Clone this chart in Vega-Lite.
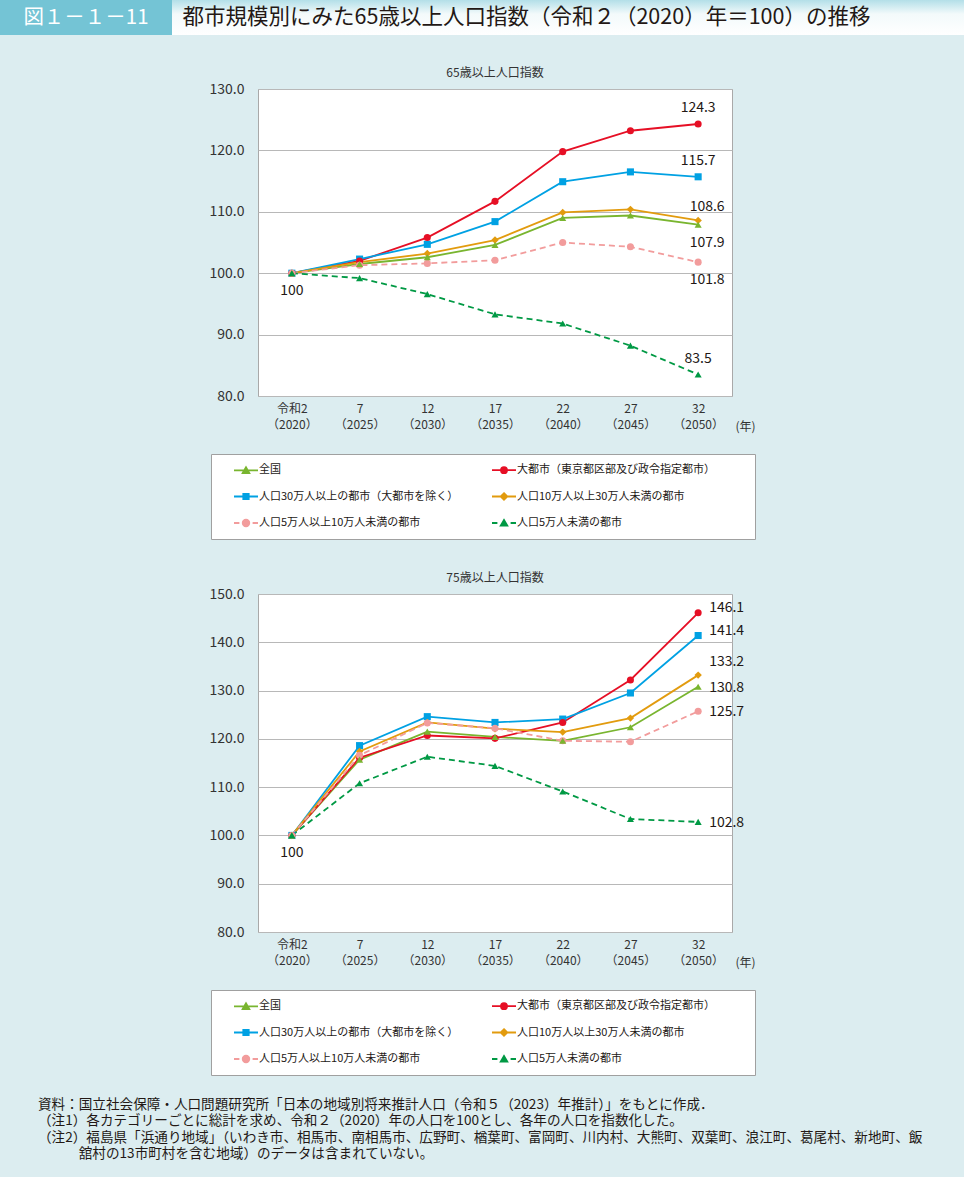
{
  "$schema": "https://vega.github.io/schema/vega-lite/v6.json",
  "background": "#dcedf0",
  "padding": {"left": 0, "top": 0, "right": 0, "bottom": 16},
  "config": {
    "font": "Noto Sans CJK JP",
    "view": {"stroke": null},
    "axis": {"labelColor": "#333333", "ticks": false, "domain": false, "titleFontWeight": "normal", "titleColor": "#333333", "labelFont": "Noto Sans CJK JP"},
    "axisX": {"grid": false, "labelAngle": 0, "labelFontSize": 12, "labelLineHeight": 16, "labelPadding": 7, "labelOverlap": false, "labelBound": false},
    "axisY": {"gridColor": "#b8b8b8", "gridWidth": 1.2, "labelFontSize": 14, "labelPadding": 14, "format": ".1f"},
    "title": {"fontSize": 12, "fontWeight": "normal", "color": "#333333", "offset": 2},
    "legend": {
      "orient": "none", "columns": 2, "direction": "horizontal",
      "padding": 9, "strokeColor": "#a0a0a0", "fillColor": "#ffffff",
      "symbolSize": 144, "symbolOffset": 19, "labelOffset": 6, "rowPadding": 12.5, "columnPadding": 19,
      "labelFontSize": 11, "labelColor": "#231815", "labelLimit": 500, "labelFont": "Noto Sans CJK JP",
      "titleOrient": "right", "titlePadding": 31, "titleFontSize": 1
    }
  },
  "datasets": {
    "d65": [
      {"period": "令和2|（2020）", "series": "全国", "value": 100},
      {"period": "7|（2025）", "series": "全国", "value": 101.5},
      {"period": "12|（2030）", "series": "全国", "value": 102.6},
      {"period": "17|（2035）", "series": "全国", "value": 104.6},
      {"period": "22|（2040）", "series": "全国", "value": 109.0},
      {"period": "27|（2045）", "series": "全国", "value": 109.4},
      {"period": "32|（2050）", "series": "全国", "value": 107.9},
      {"period": "令和2|（2020）", "series": "大都市（東京都区部及び政令指定都市）", "value": 100},
      {"period": "7|（2025）", "series": "大都市（東京都区部及び政令指定都市）", "value": 102.0},
      {"period": "12|（2030）", "series": "大都市（東京都区部及び政令指定都市）", "value": 105.8},
      {"period": "17|（2035）", "series": "大都市（東京都区部及び政令指定都市）", "value": 111.7},
      {"period": "22|（2040）", "series": "大都市（東京都区部及び政令指定都市）", "value": 119.8},
      {"period": "27|（2045）", "series": "大都市（東京都区部及び政令指定都市）", "value": 123.2},
      {"period": "32|（2050）", "series": "大都市（東京都区部及び政令指定都市）", "value": 124.3},
      {"period": "令和2|（2020）", "series": "人口30万人以上の都市（大都市を除く）", "value": 100},
      {"period": "7|（2025）", "series": "人口30万人以上の都市（大都市を除く）", "value": 102.3},
      {"period": "12|（2030）", "series": "人口30万人以上の都市（大都市を除く）", "value": 104.7},
      {"period": "17|（2035）", "series": "人口30万人以上の都市（大都市を除く）", "value": 108.4},
      {"period": "22|（2040）", "series": "人口30万人以上の都市（大都市を除く）", "value": 114.9},
      {"period": "27|（2045）", "series": "人口30万人以上の都市（大都市を除く）", "value": 116.5},
      {"period": "32|（2050）", "series": "人口30万人以上の都市（大都市を除く）", "value": 115.7},
      {"period": "令和2|（2020）", "series": "人口10万人以上30万人未満の都市", "value": 100},
      {"period": "7|（2025）", "series": "人口10万人以上30万人未満の都市", "value": 101.8},
      {"period": "12|（2030）", "series": "人口10万人以上30万人未満の都市", "value": 103.2},
      {"period": "17|（2035）", "series": "人口10万人以上30万人未満の都市", "value": 105.4},
      {"period": "22|（2040）", "series": "人口10万人以上30万人未満の都市", "value": 109.9},
      {"period": "27|（2045）", "series": "人口10万人以上30万人未満の都市", "value": 110.4},
      {"period": "32|（2050）", "series": "人口10万人以上30万人未満の都市", "value": 108.6},
      {"period": "令和2|（2020）", "series": "人口5万人以上10万人未満の都市", "value": 100},
      {"period": "7|（2025）", "series": "人口5万人以上10万人未満の都市", "value": 101.3},
      {"period": "12|（2030）", "series": "人口5万人以上10万人未満の都市", "value": 101.6},
      {"period": "17|（2035）", "series": "人口5万人以上10万人未満の都市", "value": 102.1},
      {"period": "22|（2040）", "series": "人口5万人以上10万人未満の都市", "value": 105.0},
      {"period": "27|（2045）", "series": "人口5万人以上10万人未満の都市", "value": 104.3},
      {"period": "32|（2050）", "series": "人口5万人以上10万人未満の都市", "value": 101.8},
      {"period": "令和2|（2020）", "series": "人口5万人未満の都市", "value": 100},
      {"period": "7|（2025）", "series": "人口5万人未満の都市", "value": 99.2},
      {"period": "12|（2030）", "series": "人口5万人未満の都市", "value": 96.6},
      {"period": "17|（2035）", "series": "人口5万人未満の都市", "value": 93.3},
      {"period": "22|（2040）", "series": "人口5万人未満の都市", "value": 91.8},
      {"period": "27|（2045）", "series": "人口5万人未満の都市", "value": 88.2},
      {"period": "32|（2050）", "series": "人口5万人未満の都市", "value": 83.5}
    ],
    "d75": [
      {"period": "令和2|（2020）", "series": "全国", "value": 100},
      {"period": "7|（2025）", "series": "全国", "value": 115.7},
      {"period": "12|（2030）", "series": "全国", "value": 121.5},
      {"period": "17|（2035）", "series": "全国", "value": 120.4},
      {"period": "22|（2040）", "series": "全国", "value": 119.6},
      {"period": "27|（2045）", "series": "全国", "value": 122.4},
      {"period": "32|（2050）", "series": "全国", "value": 130.8},
      {"period": "令和2|（2020）", "series": "大都市（東京都区部及び政令指定都市）", "value": 100},
      {"period": "7|（2025）", "series": "大都市（東京都区部及び政令指定都市）", "value": 116.1},
      {"period": "12|（2030）", "series": "大都市（東京都区部及び政令指定都市）", "value": 120.7},
      {"period": "17|（2035）", "series": "大都市（東京都区部及び政令指定都市）", "value": 120.1},
      {"period": "22|（2040）", "series": "大都市（東京都区部及び政令指定都市）", "value": 123.4},
      {"period": "27|（2045）", "series": "大都市（東京都区部及び政令指定都市）", "value": 132.2},
      {"period": "32|（2050）", "series": "大都市（東京都区部及び政令指定都市）", "value": 146.1},
      {"period": "令和2|（2020）", "series": "人口30万人以上の都市（大都市を除く）", "value": 100},
      {"period": "7|（2025）", "series": "人口30万人以上の都市（大都市を除く）", "value": 118.6},
      {"period": "12|（2030）", "series": "人口30万人以上の都市（大都市を除く）", "value": 124.6},
      {"period": "17|（2035）", "series": "人口30万人以上の都市（大都市を除く）", "value": 123.4},
      {"period": "22|（2040）", "series": "人口30万人以上の都市（大都市を除く）", "value": 124.1},
      {"period": "27|（2045）", "series": "人口30万人以上の都市（大都市を除く）", "value": 129.5},
      {"period": "32|（2050）", "series": "人口30万人以上の都市（大都市を除く）", "value": 141.4},
      {"period": "令和2|（2020）", "series": "人口10万人以上30万人未満の都市", "value": 100},
      {"period": "7|（2025）", "series": "人口10万人以上30万人未満の都市", "value": 117.4},
      {"period": "12|（2030）", "series": "人口10万人以上30万人未満の都市", "value": 123.4},
      {"period": "17|（2035）", "series": "人口10万人以上30万人未満の都市", "value": 122.1},
      {"period": "22|（2040）", "series": "人口10万人以上30万人未満の都市", "value": 121.4},
      {"period": "27|（2045）", "series": "人口10万人以上30万人未満の都市", "value": 124.3},
      {"period": "32|（2050）", "series": "人口10万人以上30万人未満の都市", "value": 133.2},
      {"period": "令和2|（2020）", "series": "人口5万人以上10万人未満の都市", "value": 100},
      {"period": "7|（2025）", "series": "人口5万人以上10万人未満の都市", "value": 116.6},
      {"period": "12|（2030）", "series": "人口5万人以上10万人未満の都市", "value": 123.3},
      {"period": "17|（2035）", "series": "人口5万人以上10万人未満の都市", "value": 122.2},
      {"period": "22|（2040）", "series": "人口5万人以上10万人未満の都市", "value": 119.6},
      {"period": "27|（2045）", "series": "人口5万人以上10万人未満の都市", "value": 119.4},
      {"period": "32|（2050）", "series": "人口5万人以上10万人未満の都市", "value": 125.7},
      {"period": "令和2|（2020）", "series": "人口5万人未満の都市", "value": 100},
      {"period": "7|（2025）", "series": "人口5万人未満の都市", "value": 110.8},
      {"period": "12|（2030）", "series": "人口5万人未満の都市", "value": 116.3},
      {"period": "17|（2035）", "series": "人口5万人未満の都市", "value": 114.4},
      {"period": "22|（2040）", "series": "人口5万人未満の都市", "value": 109.1},
      {"period": "27|（2045）", "series": "人口5万人未満の都市", "value": 103.4},
      {"period": "32|（2050）", "series": "人口5万人未満の都市", "value": 102.8}
    ]
  },
  "title": {
    "text": [
      "資料：国立社会保障・人口問題研究所「日本の地域別将来推計人口（令和５（2023）年推計）」をもとに作成．",
      "（注1）各カテゴリーごとに総計を求め、令和２（2020）年の人口を100とし、各年の人口を指数化した。",
      "（注2）福島県「浜通り地域」（いわき市、相馬市、南相馬市、広野町、楢葉町、富岡町、川内村、大熊町、双葉町、浪江町、葛尾村、新地町、飯",
      "\u200b　　　舘村の13市町村を含む地域）のデータは含まれていない。"
    ],
    "orient": "bottom",
    "anchor": "start",
    "dx": 38,
    "offset": 22,
    "fontSize": 13.6,
    "lineHeight": 16.5,
    "color": "#231815",
    "fontWeight": "normal",
    "baseline": "top"
  },
  "spacing": 31,
  "resolve": {
    "scale": {"color": "independent", "x": "independent", "y": "independent"},
    "legend": {"color": "independent"}
  },
  "vconcat": [
    {
      "spacing": 0,
      "hconcat": [
        {
          "width": 172, "height": 35,
          "view": {"fill": "#74c4d5", "stroke": null},
          "data": {"values": [{"label": "図１－１－11"}]},
          "mark": {"type": "text", "color": "#ffffff", "fontSize": 20.5},
          "encoding": {"text": {"field": "label"}}
        },
        {
          "width": 709, "height": 35,
          "view": {"fill": {"gradient": "linear", "x1": 0, "y1": 0, "x2": 0, "y2": 1, "stops": [{"offset": 0, "color": "#b3dfe8"}, {"offset": 0.4, "color": "#f3fafb"}, {"offset": 1, "color": "#ffffff"}]}, "stroke": null},
          "data": {"values": [{"label": "都市規模別にみた65歳以上人口指数（令和２（2020）年＝100）の推移"}]},
          "mark": {"type": "text", "color": "#231815", "fontSize": 21.5},
          "encoding": {"text": {"field": "label"}}
        },
        {
          "width": 83, "height": 35,
          "view": {"fill": {"gradient": "linear", "x1": 0, "y1": 0, "x2": 0, "y2": 1, "stops": [{"offset": 0, "color": "#b3dfe8"}, {"offset": 0.4, "color": "#f3fafb"}, {"offset": 1, "color": "#ffffff"}]}, "stroke": null},
          "data": {"values": [{"label": ""}]},
          "mark": {"type": "text"},
          "encoding": {"text": {"field": "label"}}
        }
      ]
    },
    {
      "spacing": 0,
      "hconcat": [
        {
          "width": 157, "height": 10,
          "view": {"fill": null, "stroke": null},
          "data": {"values": [{"label": ""}]},
          "mark": {"type": "text"},
          "encoding": {"text": {"field": "label"}}
        },
        {
          "width": 474, "height": 307,
          "title": "65歳以上人口指数",
          "view": {"fill": "#ffffff", "stroke": "#a9a9a9"},
          "data": {"name": "d65"},
          "encoding": {
            "x": {"field": "period", "type": "ordinal", "sort": null, "scale": {"type": "point", "padding": 0.5},
                  "axis": {"title": "(年)", "titleX": 477, "titleY": 30, "titleAlign": "left", "titleBaseline": "middle", "titleFontSize": 12, "labelExpr": "split(datum.label, '|')"}},
            "y": {"field": "value", "type": "quantitative", "scale": {"domain": [80, 130], "zero": false, "nice": false},
                  "axis": {"title": "　", "titleX": -100, "titleY": 150, "titleAngle": 0, "titleAlign": "left", "titleFontSize": 12, "values": [80, 90, 100, 110, 120, 130]}},
            "color": {"field": "series", "type": "nominal",
              "scale": {"domain": ["全国", "大都市（東京都区部及び政令指定都市）", "人口30万人以上の都市（大都市を除く）", "人口10万人以上30万人未満の都市", "人口5万人以上10万人未満の都市", "人口5万人未満の都市"],
                        "range": ["#79b52f", "#e60f25", "#00a1e3", "#e29b0e", "#f29c9c", "#009944"]},
              "legend": {
                "title": "　", "legendX": 211, "legendY": 365,
                "encode": {"symbols": {"update": {
                  "shape": {"signal": "['M-2,0H2M-0.55,0.45L0,-0.5L0.55,0.45Z','M-2,0H2M-0.5,0A0.5,0.5,0,1,0,0.5,0A0.5,0.5,0,1,0,-0.5,0Z','M-2,0H2M-0.45,-0.45H0.45V0.45H-0.45Z','M-2,0H2M0,-0.55L0.55,0L0,0.55L-0.55,0Z','M-2,0H-1.1M1.1,0H2M-0.55,0A0.55,0.55,0,1,0,0.55,0A0.55,0.55,0,1,0,-0.55,0Z','M-2,0H-1.1M1.1,0H2M-0.55,0.45L0,-0.5L0.55,0.45Z'][indexof(['全国','大都市（東京都区部及び政令指定都市）','人口30万人以上の都市（大都市を除く）','人口10万人以上30万人未満の都市','人口5万人以上10万人未満の都市','人口5万人未満の都市'], datum.value)]"},
                  "fill": {"signal": "['#79b52f','#e60f25','#00a1e3','#e29b0e','#f29c9c','#009944'][indexof(['全国','大都市（東京都区部及び政令指定都市）','人口30万人以上の都市（大都市を除く）','人口10万人以上30万人未満の都市','人口5万人以上10万人未満の都市','人口5万人未満の都市'], datum.value)]"},
                  "stroke": {"signal": "['#79b52f','#e60f25','#00a1e3','#e29b0e','#f29c9c','#009944'][indexof(['全国','大都市（東京都区部及び政令指定都市）','人口30万人以上の都市（大都市を除く）','人口10万人以上30万人未満の都市','人口5万人以上10万人未満の都市','人口5万人未満の都市'], datum.value)]"},
                  "strokeWidth": {"value": 1.8},
                  "strokeDash": {"value": []},
                  "size": {"value": 144},
                  "opacity": {"value": 1},
                  "fillOpacity": {"value": 1}
                }}}
              }}
          },
          "layer": [
            {
              "transform": [{"filter": {"field": "series", "oneOf": ["全国", "大都市（東京都区部及び政令指定都市）", "人口30万人以上の都市（大都市を除く）", "人口10万人以上30万人未満の都市"]}}],
              "mark": {"type": "line", "strokeWidth": 1.8}
            },
            {
              "transform": [{"filter": {"field": "series", "oneOf": ["人口5万人以上10万人未満の都市", "人口5万人未満の都市"]}}],
              "mark": {"type": "line", "strokeWidth": 1.8, "strokeDash": [6, 4]}
            },
            {
              "transform": [{"filter": {"field": "series", "oneOf": ["人口30万人以上の都市（大都市を除く）"]}}],
              "mark": {"type": "point", "shape": "square", "filled": true, "size": 50, "opacity": 1}
            },
            {
              "transform": [{"filter": {"field": "series", "oneOf": ["人口10万人以上30万人未満の都市"]}}],
              "mark": {"type": "point", "shape": "diamond", "filled": true, "size": 55, "opacity": 1}
            },
            {
              "transform": [{"filter": {"field": "series", "oneOf": ["大都市（東京都区部及び政令指定都市）", "人口5万人以上10万人未満の都市"]}}],
              "mark": {"type": "point", "shape": "circle", "filled": true, "size": 50, "opacity": 1}
            },
            {
              "transform": [{"filter": {"field": "series", "oneOf": ["全国", "人口5万人未満の都市"]}}],
              "mark": {"type": "point", "shape": "triangle-up", "filled": true, "size": 50, "opacity": 1}
            },
            {
              "transform": [{"filter": {"field": "period", "equal": "32|（2050）"}}, {"filter": {"field": "series", "oneOf": ["大都市（東京都区部及び政令指定都市）", "人口30万人以上の都市（大都市を除く）", "人口5万人未満の都市"]}}],
              "mark": {"type": "text", "fontSize": 14, "dy": -16},
              "encoding": {"text": {"field": "value", "type": "quantitative", "format": ".1f"}, "color": {"value": "#231815"}}
            },
            {
              "transform": [{"filter": {"field": "period", "equal": "32|（2050）"}}, {"filter": {"field": "series", "equal": "人口10万人以上30万人未満の都市"}}],
              "mark": {"type": "text", "fontSize": 14, "dx": 9, "dy": -13},
              "encoding": {"text": {"field": "value", "type": "quantitative", "format": ".1f"}, "color": {"value": "#231815"}}
            },
            {
              "transform": [{"filter": {"field": "period", "equal": "32|（2050）"}}, {"filter": {"field": "series", "oneOf": ["全国", "人口5万人以上10万人未満の都市"]}}],
              "mark": {"type": "text", "fontSize": 14, "dx": 9, "dy": 18},
              "encoding": {"text": {"field": "value", "type": "quantitative", "format": ".1f"}, "color": {"value": "#231815"}}
            },
            {
              "transform": [{"filter": {"field": "period", "equal": "令和2|（2020）"}}, {"filter": {"field": "series", "equal": "全国"}}],
              "mark": {"type": "text", "fontSize": 14, "dy": 18},
              "encoding": {"text": {"field": "value", "type": "quantitative", "format": ".0f"}, "color": {"value": "#231815"}}
            }
          ]
        }
      ]
    },
    {
      "spacing": 0,
      "hconcat": [
        {
          "width": 157, "height": 10,
          "view": {"fill": null, "stroke": null},
          "data": {"values": [{"label": ""}]},
          "mark": {"type": "text"},
          "encoding": {"text": {"field": "label"}}
        },
        {
          "width": 474, "height": 338,
          "title": "75歳以上人口指数",
          "view": {"fill": "#ffffff", "stroke": "#a9a9a9"},
          "data": {"name": "d75"},
          "encoding": {
            "x": {"field": "period", "type": "ordinal", "sort": null, "scale": {"type": "point", "padding": 0.5},
                  "axis": {"title": "(年)", "titleX": 477, "titleY": 30, "titleAlign": "left", "titleBaseline": "middle", "titleFontSize": 12, "labelExpr": "split(datum.label, '|')"}},
            "y": {"field": "value", "type": "quantitative", "scale": {"domain": [80, 150], "zero": false, "nice": false},
                  "axis": {"title": "　", "titleX": -100, "titleY": 150, "titleAngle": 0, "titleAlign": "left", "titleFontSize": 12, "values": [80, 90, 100, 110, 120, 130, 140, 150]}},
            "color": {"field": "series", "type": "nominal",
              "scale": {"domain": ["全国", "大都市（東京都区部及び政令指定都市）", "人口30万人以上の都市（大都市を除く）", "人口10万人以上30万人未満の都市", "人口5万人以上10万人未満の都市", "人口5万人未満の都市"],
                        "range": ["#79b52f", "#e60f25", "#00a1e3", "#e29b0e", "#f29c9c", "#009944"]},
              "legend": {
                "title": "　", "legendX": 211, "legendY": 396,
                "encode": {"symbols": {"update": {
                  "shape": {"signal": "['M-2,0H2M-0.55,0.45L0,-0.5L0.55,0.45Z','M-2,0H2M-0.5,0A0.5,0.5,0,1,0,0.5,0A0.5,0.5,0,1,0,-0.5,0Z','M-2,0H2M-0.45,-0.45H0.45V0.45H-0.45Z','M-2,0H2M0,-0.55L0.55,0L0,0.55L-0.55,0Z','M-2,0H-1.1M1.1,0H2M-0.55,0A0.55,0.55,0,1,0,0.55,0A0.55,0.55,0,1,0,-0.55,0Z','M-2,0H-1.1M1.1,0H2M-0.55,0.45L0,-0.5L0.55,0.45Z'][indexof(['全国','大都市（東京都区部及び政令指定都市）','人口30万人以上の都市（大都市を除く）','人口10万人以上30万人未満の都市','人口5万人以上10万人未満の都市','人口5万人未満の都市'], datum.value)]"},
                  "fill": {"signal": "['#79b52f','#e60f25','#00a1e3','#e29b0e','#f29c9c','#009944'][indexof(['全国','大都市（東京都区部及び政令指定都市）','人口30万人以上の都市（大都市を除く）','人口10万人以上30万人未満の都市','人口5万人以上10万人未満の都市','人口5万人未満の都市'], datum.value)]"},
                  "stroke": {"signal": "['#79b52f','#e60f25','#00a1e3','#e29b0e','#f29c9c','#009944'][indexof(['全国','大都市（東京都区部及び政令指定都市）','人口30万人以上の都市（大都市を除く）','人口10万人以上30万人未満の都市','人口5万人以上10万人未満の都市','人口5万人未満の都市'], datum.value)]"},
                  "strokeWidth": {"value": 1.8},
                  "strokeDash": {"value": []},
                  "size": {"value": 144},
                  "opacity": {"value": 1},
                  "fillOpacity": {"value": 1}
                }}}
              }}
          },
          "layer": [
            {
              "transform": [{"filter": {"field": "series", "oneOf": ["全国", "大都市（東京都区部及び政令指定都市）", "人口30万人以上の都市（大都市を除く）", "人口10万人以上30万人未満の都市"]}}],
              "mark": {"type": "line", "strokeWidth": 1.8}
            },
            {
              "transform": [{"filter": {"field": "series", "oneOf": ["人口5万人以上10万人未満の都市", "人口5万人未満の都市"]}}],
              "mark": {"type": "line", "strokeWidth": 1.8, "strokeDash": [6, 4]}
            },
            {
              "transform": [{"filter": {"field": "series", "oneOf": ["人口30万人以上の都市（大都市を除く）"]}}],
              "mark": {"type": "point", "shape": "square", "filled": true, "size": 50, "opacity": 1}
            },
            {
              "transform": [{"filter": {"field": "series", "oneOf": ["人口10万人以上30万人未満の都市"]}}],
              "mark": {"type": "point", "shape": "diamond", "filled": true, "size": 55, "opacity": 1}
            },
            {
              "transform": [{"filter": {"field": "series", "oneOf": ["大都市（東京都区部及び政令指定都市）", "人口5万人以上10万人未満の都市"]}}],
              "mark": {"type": "point", "shape": "circle", "filled": true, "size": 50, "opacity": 1}
            },
            {
              "transform": [{"filter": {"field": "series", "oneOf": ["全国", "人口5万人未満の都市"]}}],
              "mark": {"type": "point", "shape": "triangle-up", "filled": true, "size": 50, "opacity": 1}
            },
            {
              "transform": [{"filter": {"field": "period", "equal": "32|（2050）"}}, {"filter": {"field": "series", "oneOf": ["大都市（東京都区部及び政令指定都市）", "人口30万人以上の都市（大都市を除く）"]}}],
              "mark": {"type": "text", "fontSize": 14, "align": "left", "dx": 11, "dy": -5},
              "encoding": {"text": {"field": "value", "type": "quantitative", "format": ".1f"}, "color": {"value": "#231815"}}
            },
            {
              "transform": [{"filter": {"field": "period", "equal": "32|（2050）"}}, {"filter": {"field": "series", "equal": "人口10万人以上30万人未満の都市"}}],
              "mark": {"type": "text", "fontSize": 14, "align": "left", "dx": 11, "dy": -13},
              "encoding": {"text": {"field": "value", "type": "quantitative", "format": ".1f"}, "color": {"value": "#231815"}}
            },
            {
              "transform": [{"filter": {"field": "period", "equal": "32|（2050）"}}, {"filter": {"field": "series", "oneOf": ["全国", "人口5万人以上10万人未満の都市", "人口5万人未満の都市"]}}],
              "mark": {"type": "text", "fontSize": 14, "align": "left", "dx": 11, "dy": 1},
              "encoding": {"text": {"field": "value", "type": "quantitative", "format": ".1f"}, "color": {"value": "#231815"}}
            },
            {
              "transform": [{"filter": {"field": "period", "equal": "令和2|（2020）"}}, {"filter": {"field": "series", "equal": "全国"}}],
              "mark": {"type": "text", "fontSize": 14, "dy": 18},
              "encoding": {"text": {"field": "value", "type": "quantitative", "format": ".0f"}, "color": {"value": "#231815"}}
            }
          ]
        }
      ]
    }
  ]
}
